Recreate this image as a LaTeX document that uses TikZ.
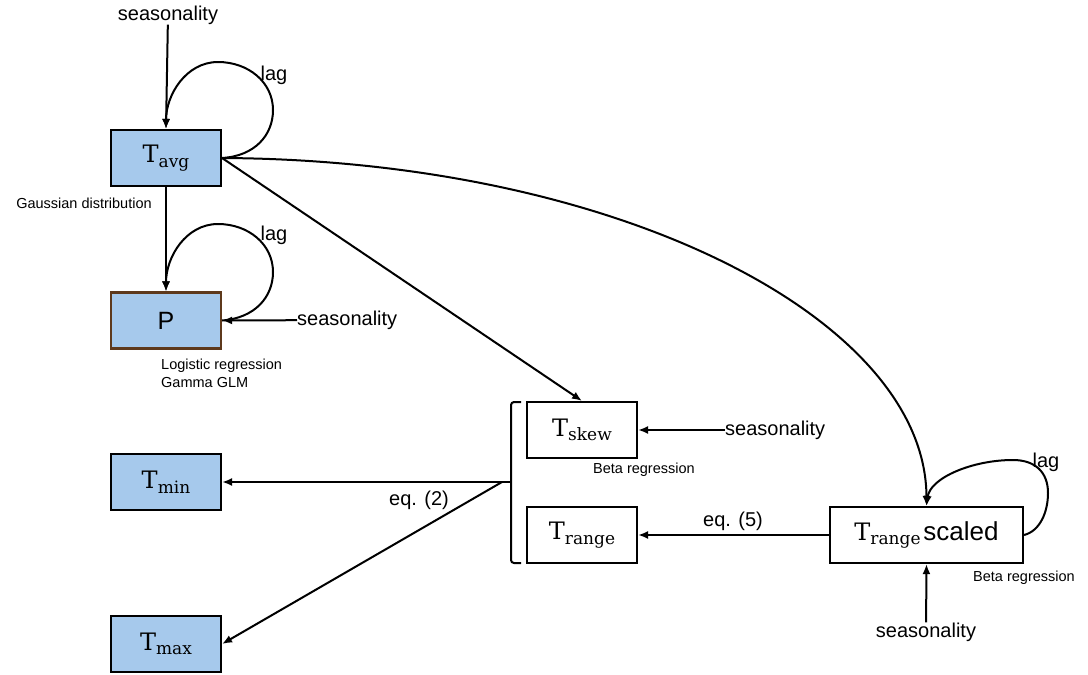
\documentclass[tikz,border=0pt]{standalone}
\usepackage{fontspec}
\setmainfont{Liberation Sans}
\newfontfamily\serfont{DejaVu Serif}
\usetikzlibrary{arrows.meta}
\definecolor{boxblue}{RGB}{166,201,236}
\definecolor{pbrown}{RGB}{94,57,28}
\newcommand{\Tsb}[1]{{\serfont\fontsize{24}{24}\selectfont T\raisebox{-4.5pt}{\fontsize{17}{17}\selectfont #1}}}
\begin{document}
\begin{tikzpicture}[x=1pt,y=-1pt,
  box/.style={draw,line width=2.1pt,minimum width=110pt,minimum height=56pt,inner sep=0pt},
  bluebox/.style={box,fill=boxblue},
  conn/.style={line width=2pt,-{Latex[length=10pt,width=8pt]}},
  plain/.style={line width=2pt},
  lbl/.style={font=\fontsize{20}{22}\selectfont,inner sep=0pt},
  small/.style={font=\fontsize{14.5}{16}\selectfont,inner sep=0pt}]
\useasboundingbox (0,0) rectangle (1088,675);

% boxes
\node[bluebox] (tavg) at (166,158) {\Tsb{avg}};
\node[bluebox,draw=pbrown] (p) at (166,320.5) {\fontsize{25}{25}\selectfont P};
\node[bluebox] (tmin) at (166,482) {\Tsb{min}};
\node[bluebox] (tmax) at (166,644) {\Tsb{max}};
\node[box] (tskew) at (582,430) {\Tsb{skew}};
\node[box] (trange) at (582,535) {\Tsb{range}};
\node[box,minimum width=193pt] (tscaled) at (926.5,535) {\Tsb{range} {\fontsize{26}{26}\selectfont scaled}};

% labels
\node[lbl] (s1) at (168,15) {seasonality};
\node[lbl] (lag1) at (274,75) {lag};
\node[small] (gauss) at (84,203) {Gaussian distribution};
\node[lbl] (lag2) at (274,235) {lag};
\node[lbl,anchor=west] (s2) at (297,320) {seasonality};
\node[small,anchor=west] (logi) at (161,366) {Logistic regression};
\node[small,anchor=west] (gamma) at (161,383) {Gamma GLM};
\node[lbl,anchor=west] (s3) at (725,430) {seasonality};
\node[small,anchor=west] (beta1) at (593,470) {Beta regression};
\node[lbl] (eq2) at (419,500) {eq. (2)};
\node[lbl] (eq5) at (733,521) {eq. (5)};
\node[lbl] (lag3) at (1046,462) {lag};
\node[small,anchor=west] (beta2) at (973,578) {Beta regression};
\node[lbl] (s4) at (926,632) {seasonality};

\coordinate (jn) at (511,482);
\coordinate (jn2) at (502,482);

% connectors
\draw[conn] (s1) -- (tavg.north);
\draw[conn] (tavg.east) .. controls (255,156) and (273,135) .. (273,110)
  .. controls (273,82) and (248,62) .. (218,62)
  .. controls (186,62) and (166,95) .. (tavg.north);
\draw[conn] (tavg) -- (p);
\draw[conn] (p.east) .. controls (255,318) and (273,297) .. (273,272)
  .. controls (273,244) and (248,224) .. (218,224)
  .. controls (186,224) and (166,257) .. (p.north);
\draw[conn] (s2) -- (p.east);
\draw[conn] (tavg.east) -- (tskew.north);
\draw[conn] (tavg.east) .. controls (620,160) and (926,320) .. (tscaled.north);
\draw[conn] (s3) -- (tskew.east);
\draw[plain,rounded corners=3pt] (521,402) -- (511,402) -- (511,563) -- (521,563);
\draw[conn] (jn) -- (tmin.east);
\draw[conn] (jn2) -- (tmax.east);
\draw[conn] (tscaled) -- (trange);
\draw[conn] (tscaled.east) .. controls (1040,531) and (1048,512) .. (1048,493)
  .. controls (1048,472) and (1035,460) .. (1013,460)
  .. controls (972,460) and (930,478) .. (tscaled.north);
\draw[conn] (s4) -- (tscaled.south);
\end{tikzpicture}
\end{document}
